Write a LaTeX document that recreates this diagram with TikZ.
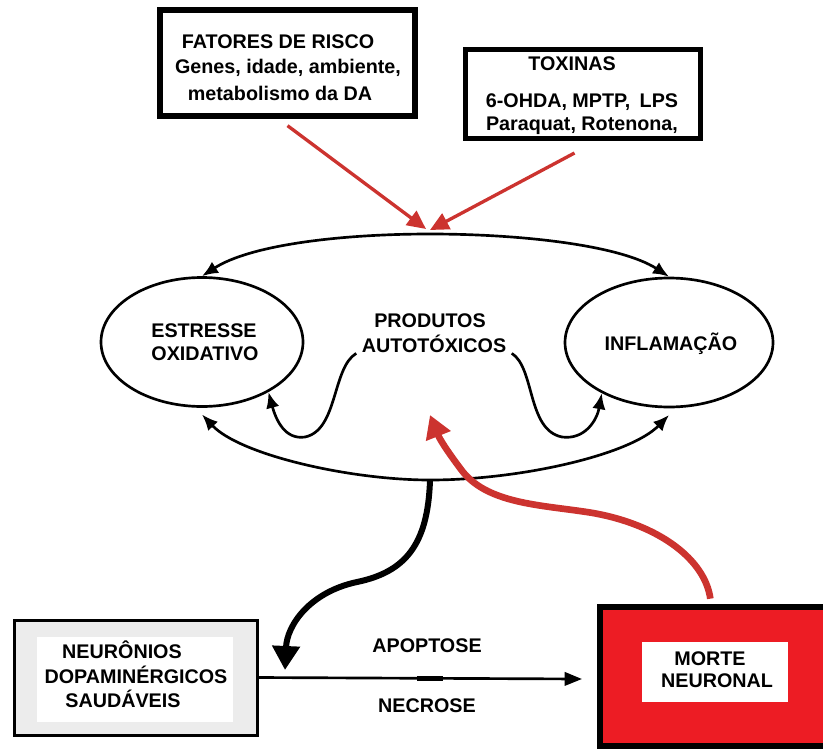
\documentclass[tikz,border=0pt]{standalone}
\usepackage{fontspec}
\setmainfont{Liberation Sans}
\usetikzlibrary{arrows.meta,shapes.geometric}
\definecolor{arrred}{RGB}{204,51,47}
\definecolor{boxred}{RGB}{237,28,36}
\definecolor{texgray}{RGB}{236,236,236}
\begin{document}
\begin{tikzpicture}[x=0.75pt,y=-0.75pt,
  lbl/.style={font=\fontsize{14.8}{18}\selectfont\bfseries, anchor=base, inner sep=0pt},
  frame/.style={draw, inner sep=0pt},
  oval/.style={draw, ellipse, line width=2pt, inner sep=0pt},
  thinhead/.style={line width=2pt},
  redthin/.style={draw=arrred, line width=2.5pt, -{Triangle[length=14pt,width=13pt]}},
  redbig/.style={draw=arrred, line width=5pt, -{Triangle[length=17pt,width=19pt]}},
  blackbig/.style={draw=black, line width=4.5pt, -{Triangle[length=18pt,width=20pt]}},
  harr/.style={draw=black, line width=2pt, -{Triangle[length=13pt,width=10pt]}}
]
\useasboundingbox (0,0) rectangle (823,749);

% boxes
\node[frame, line width=4.5pt, fill=white, minimum width=191.25pt, minimum height=79.5pt] (fat) at (287.5,63) {};
\node[frame, line width=3.75pt, fill=white, minimum width=176.25pt, minimum height=66.4pt] (tox) at (582.5,94.25) {};
\node[frame, line width=2.25pt, fill=texgray, minimum width=182.25pt, minimum height=86.25pt] (neu) at (135.5,677.5) {};
\node[fill=white, minimum width=147pt, minimum height=63.75pt, inner sep=0pt] (neuin) at (135,679.5) {};
\node[frame, line width=4.5pt, fill=boxred, minimum width=169.5pt, minimum height=104.25pt] (morte) at (713,676.5) {};
\node[fill=white, minimum width=109.5pt, minimum height=45pt, inner sep=0pt] (mortein) at (715,672) {};

% ellipses
\node[oval, minimum width=151.5pt, minimum height=96.75pt] (es) at (202,342) {};
\node[oval, minimum width=156pt, minimum height=96.75pt] (inf) at (669,342.5) {};

% texts
\node[lbl] (f1) at (278,49) {FATORES DE RISCO};
\node[lbl] (f2) at (288,74) {Genes, idade, ambiente,};
\node[lbl] (f3) at (280,100) {metabolismo da DA};
\node[lbl] (t1) at (572,70) {TOXINAS};
\node[lbl] (t2) at (582,107) {6-OHDA, MPTP,\hspace{3pt} LPS};
\node[lbl] (t3) at (582,130) {Paraquat, Rotenona,};
\node[lbl] (p1) at (430,327) {PRODUTOS};
\node[lbl] (auto) at (434,352) {AUTOTÓXICOS};
\node[lbl] (e1) at (204,337) {ESTRESSE};
\node[lbl] (e2) at (205,360) {OXIDATIVO};
\node[lbl] (i1) at (671,350) {INFLAMAÇÃO};
\node[lbl] (n1) at (122,658) {NEURÔNIOS};
\node[lbl] (n2) at (136,683) {DOPAMINÉRGICOS};
\node[lbl] (n3) at (123,707) {SAUDÁVEIS};
\node[lbl] (ap) at (427,652) {APOPTOSE};
\node[lbl] (ne) at (427,712) {NECROSE};
\node[lbl] (m1) at (710,665) {MORTE};
\node[lbl] (m2) at (717,687) {NEURONAL};

% named free ends
\coordinate (rl) at (426,229);
\coordinate (rr) at (430,230);
\coordinate (ptip) at (430,415);
\coordinate (bend) at (285,670);
\coordinate (htip) at (582,679);

% top and bottom arcs
\draw[thinhead, {Latex[length=12pt,width=10pt]}-{Latex[length=12pt,width=10pt]}]
  (es.north) .. controls (250,245) and (340,234) .. (430,234) coordinate (peak)
  .. controls (520,234) and (620,245) .. (inf.north);
\draw[thinhead, {Latex[length=12pt,width=10pt]}-{Latex[length=12pt,width=10pt]}]
  ([yshift=-5pt]es.south) .. controls (240,455) and (350,480) .. (430,480) coordinate (bmid)
  .. controls (520,480) and (630,455) .. ([yshift=-5pt]inf.south);

% S-curves
\draw[thinhead, -{Latex[length=12pt,width=10pt]}]
  ([xshift=-4pt,yshift=-1pt]auto.base west) .. controls (332,368) and (338,430) .. (305,437)
  .. controls (285,440) and (276,420) .. (es.-37);
\draw[thinhead, -{Latex[length=12pt,width=10pt]}]
  ([xshift=4pt,yshift=-1pt]auto.base east) .. controls (535,368) and (527,430) .. (562,437)
  .. controls (585,440) and (597,420) .. (inf.-143);

% red arrows from top boxes
\draw[redthin] ([yshift=-5pt]fat.south) -- (rl);
\draw[redthin] ([shift={(-6pt,-9pt)}]tox.south) -- (rr);

% big red arrow from death to toxic products
\draw[redbig] ([xshift=-2pt,yshift=4pt]morte.north) .. controls (705,560) and (660,525) .. (593,513)
  .. controls (545,505) and (490,505) .. (463,472)
  .. controls (450,455) and (440,440) .. (ptip);

% black thick arrow to neurons
\draw[blackbig] (bmid) .. controls (428,545) and (405,572) .. (357,582)
  .. controls (310,592) and (287,625) .. (bend);

% horizontal arrow
\draw[harr] (neu.east) -- node[pos=0.53, fill=black, minimum width=19.5pt, minimum height=3.5pt, inner sep=0pt] (mk) {} (htip);
\end{tikzpicture}
\end{document}
